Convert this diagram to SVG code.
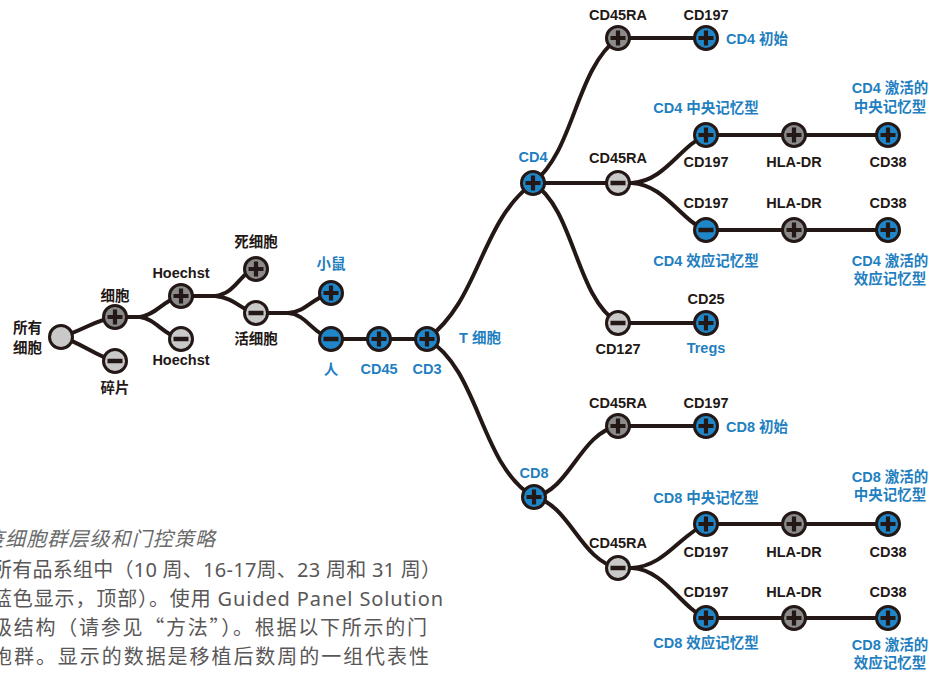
<svg xmlns="http://www.w3.org/2000/svg" xmlns:xlink="http://www.w3.org/1999/xlink" width="933" height="673" viewBox="0 0 933 673">
<style>
.c{stroke:#231815;stroke-width:3}
.b{fill:#1f87c9}
.g{fill:#8b8b8b}
.l{fill:#c9c9ca}
.e{fill:none;stroke:#231815;stroke-width:4;stroke-linecap:round}
.t{font-family:"Liberation Sans","Noto Sans CJK SC",sans-serif;font-weight:bold;font-size:14.5px;fill:#231815;text-anchor:middle}
.s{text-anchor:start}
.r{text-anchor:end}
.tb{fill:#1f7fc1}
.cap{font-family:"Noto Sans","Noto Sans CJK SC",sans-serif;font-size:20px;fill:#595757}
.cj{font-family:"Noto Sans CJK SC",sans-serif}
.it{font-style:italic;fill:#6a6a6a}
</style>
<defs>
<path id="p" d="M-7.5,0H7.5M0,-7.5V7.5" stroke="#231815" stroke-width="4.2"/>
<path id="m" d="M-7.5,0H7.5" stroke="#231815" stroke-width="4.5"/>
</defs>
<rect width="933" height="673" fill="#ffffff"/>
<g id="connectors">
<path class="e" d="M61,337 C84,330 95,320 115,317"/>
<path class="e" d="M61,337 C84,344 95,356 115,361"/>
<path class="e" d="M115,317 H140 C156,315 163,300 181,296"/>
<path class="e" d="M140,317 C156,319 163,335 181,339"/>
<path class="e" d="M181,296 H215 C236,294 240,272 256,269"/>
<path class="e" d="M215,296 C236,298 240,310 256,313"/>
<path class="e" d="M256,313 H288 C306,312 312,298 331,293"/>
<path class="e" d="M288,313 C306,314 312,333 331,339"/>
<path class="e" d="M331,339 H427"/>
<path class="e" d="M427,339 C480,300 480,222 533,183"/>
<path class="e" d="M427,339 C480,370 480,466 534,497"/>
<path class="e" d="M533,183 C575,150 575,70 618,38 H706"/>
<path class="e" d="M533,183 H618"/>
<path class="e" d="M533,183 C575,210 575,296 618,323 H706"/>
<path class="e" d="M618,183 H632 C665,181 680,146 706,135 H888"/>
<path class="e" d="M632,183 C665,185 680,220 706,230 H888"/>
<path class="e" d="M534,497 C570,490 580,433 618,426 H706"/>
<path class="e" d="M534,497 C570,505 580,560 618,568"/>
<path class="e" d="M618,568 H632 C665,566 680,535 706,524 H888"/>
<path class="e" d="M632,568 C665,570 680,607 706,618 H888"/>
</g>
<g id="n-all"><circle class="c l" cx="61" cy="337" r="11.5"/><text class="t r" x="42" y="333">所有</text><text class="t r" x="42" y="353">细胞</text></g>
<g id="n-cells"><circle class="c g" cx="115" cy="317" r="11.5"/><use xlink:href="#p" x="115" y="317"/><text class="t" x="115" y="301">细胞</text></g>
<g id="n-debris"><circle class="c l" cx="115" cy="361" r="11.5"/><use xlink:href="#m" x="115" y="361"/><text class="t" x="115" y="393">碎片</text></g>
<g id="n-hoechst-pos"><circle class="c g" cx="181" cy="296" r="11.5"/><use xlink:href="#p" x="181" y="296"/><text class="t" x="181" y="278">Hoechst</text></g>
<g id="n-hoechst-neg"><circle class="c l" cx="181" cy="339" r="11.5"/><use xlink:href="#m" x="181" y="339"/><text class="t" x="181" y="365">Hoechst</text></g>
<g id="n-dead"><circle class="c g" cx="256" cy="269" r="11.5"/><use xlink:href="#p" x="256" y="269"/><text class="t" x="256" y="247">死细胞</text></g>
<g id="n-live"><circle class="c l" cx="256" cy="313" r="11.5"/><use xlink:href="#m" x="256" y="313"/><text class="t" x="256" y="344">活细胞</text></g>
<g id="n-mouse"><circle class="c b" cx="331" cy="293" r="11.5"/><use xlink:href="#p" x="331" y="293"/><text class="t tb" x="331" y="269">小鼠</text></g>
<g id="n-human"><circle class="c b" cx="331" cy="339" r="11.5"/><use xlink:href="#m" x="331" y="339"/><text class="t tb" x="331" y="375">人</text></g>
<g id="n-cd45"><circle class="c b" cx="379" cy="339" r="11.5"/><use xlink:href="#p" x="379" y="339"/><text class="t tb" x="379" y="374">CD45</text></g>
<g id="n-cd3"><circle class="c b" cx="427" cy="339" r="11.5"/><use xlink:href="#p" x="427" y="339"/><text class="t tb" x="427" y="374">CD3</text><text class="t tb s" x="459" y="343">T 细胞</text></g>
<g id="n-cd4"><circle class="c b" cx="533" cy="183" r="11.5"/><use xlink:href="#p" x="533" y="183"/><text class="t tb" x="533" y="162">CD4</text></g>
<g id="n-cd4-ra-pos"><circle class="c g" cx="618" cy="38" r="11.5"/><use xlink:href="#p" x="618" y="38"/><text class="t" x="618" y="20">CD45RA</text></g>
<g id="n-cd4-naive"><circle class="c b" cx="706" cy="38" r="11.5"/><use xlink:href="#p" x="706" y="38"/><text class="t" x="706" y="20">CD197</text><text class="t tb s" x="726" y="44">CD4 初始</text></g>
<g id="n-cd4-ra-neg"><circle class="c l" cx="618" cy="183" r="11.5"/><use xlink:href="#m" x="618" y="183"/><text class="t" x="618" y="163">CD45RA</text></g>
<g id="n-cd4-cm"><circle class="c b" cx="706" cy="135" r="11.5"/><use xlink:href="#p" x="706" y="135"/><text class="t tb" x="706" y="113">CD4 中央记忆型</text><text class="t" x="706" y="167">CD197</text></g>
<g id="n-cd4-cm-hla"><circle class="c g" cx="794" cy="135" r="11.5"/><use xlink:href="#p" x="794" y="135"/><text class="t" x="794" y="167">HLA-DR</text></g>
<g id="n-cd4-cm-cd38"><circle class="c b" cx="888" cy="135" r="11.5"/><use xlink:href="#p" x="888" y="135"/><text class="t" x="888" y="167">CD38</text><text class="t tb" x="890" y="93">CD4 激活的</text><text class="t tb" x="890" y="112">中央记忆型</text></g>
<g id="n-cd4-em"><circle class="c b" cx="706" cy="230" r="11.5"/><use xlink:href="#m" x="706" y="230"/><text class="t" x="706" y="208">CD197</text><text class="t tb" x="706" y="266">CD4 效应记忆型</text></g>
<g id="n-cd4-em-hla"><circle class="c g" cx="794" cy="230" r="11.5"/><use xlink:href="#p" x="794" y="230"/><text class="t" x="794" y="208">HLA-DR</text></g>
<g id="n-cd4-em-cd38"><circle class="c b" cx="888" cy="230" r="11.5"/><use xlink:href="#p" x="888" y="230"/><text class="t" x="888" y="208">CD38</text><text class="t tb" x="890" y="266">CD4 激活的</text><text class="t tb" x="890" y="284">效应记忆型</text></g>
<g id="n-cd127"><circle class="c l" cx="618" cy="323" r="11.5"/><use xlink:href="#m" x="618" y="323"/><text class="t" x="618" y="354">CD127</text></g>
<g id="n-cd25"><circle class="c b" cx="706" cy="323" r="11.5"/><use xlink:href="#p" x="706" y="323"/><text class="t" x="706" y="304">CD25</text><text class="t tb" x="706" y="353">Tregs</text></g>
<g id="n-cd8"><circle class="c b" cx="534" cy="497" r="11.5"/><use xlink:href="#p" x="534" y="497"/><text class="t tb" x="534" y="478">CD8</text></g>
<g id="n-cd8-ra-pos"><circle class="c g" cx="618" cy="426" r="11.5"/><use xlink:href="#p" x="618" y="426"/><text class="t" x="618" y="408">CD45RA</text></g>
<g id="n-cd8-naive"><circle class="c b" cx="706" cy="426" r="11.5"/><use xlink:href="#p" x="706" y="426"/><text class="t" x="706" y="408">CD197</text><text class="t tb s" x="726" y="432">CD8 初始</text></g>
<g id="n-cd8-ra-neg"><circle class="c l" cx="618" cy="568" r="11.5"/><use xlink:href="#m" x="618" y="568"/><text class="t" x="618" y="548">CD45RA</text></g>
<g id="n-cd8-cm"><circle class="c b" cx="706" cy="524" r="11.5"/><use xlink:href="#p" x="706" y="524"/><text class="t tb" x="706" y="503">CD8 中央记忆型</text><text class="t" x="706" y="557">CD197</text></g>
<g id="n-cd8-cm-hla"><circle class="c g" cx="794" cy="524" r="11.5"/><use xlink:href="#p" x="794" y="524"/><text class="t" x="794" y="557">HLA-DR</text></g>
<g id="n-cd8-cm-cd38"><circle class="c b" cx="888" cy="524" r="11.5"/><use xlink:href="#p" x="888" y="524"/><text class="t" x="888" y="557">CD38</text><text class="t tb" x="890" y="482">CD8 激活的</text><text class="t tb" x="890" y="500">中央记忆型</text></g>
<g id="n-cd8-em"><circle class="c b" cx="706" cy="618" r="11.5"/><use xlink:href="#p" x="706" y="618"/><text class="t" x="706" y="597">CD197</text><text class="t tb" x="706" y="648">CD8 效应记忆型</text></g>
<g id="n-cd8-em-hla"><circle class="c g" cx="794" cy="618" r="11.5"/><use xlink:href="#p" x="794" y="618"/><text class="t" x="794" y="597">HLA-DR</text></g>
<g id="n-cd8-em-cd38"><circle class="c b" cx="888" cy="618" r="11.5"/><use xlink:href="#p" x="888" y="618"/><text class="t" x="888" y="597">CD38</text><text class="t tb" x="890" y="650">CD8 激活的</text><text class="t tb" x="890" y="668">效应记忆型</text></g>
<g id="caption">
<text class="cap it" x="-16" y="546" textLength="231" lengthAdjust="spacing">疫细胞群层级和门控策略</text>
<text class="cap" x="-8" y="577" textLength="449" lengthAdjust="spacing">所有品系组中（10 周、16-17周、23 周和 31 周）</text>
<text class="cap" x="-8" y="606" textLength="451" lengthAdjust="spacing">蓝色显示，顶部）。使用 Guided Panel Solution</text>
<text class="cap" x="-8" y="635" textLength="435" lengthAdjust="spacing">级结构（请参见<tspan class="cj">“</tspan>方法<tspan class="cj">”</tspan>）。根据以下所示的门</text>
<text class="cap" x="-8" y="664" textLength="437" lengthAdjust="spacing">胞群。显示的数据是移植后数周的一组代表性</text>
</g>
</svg>
